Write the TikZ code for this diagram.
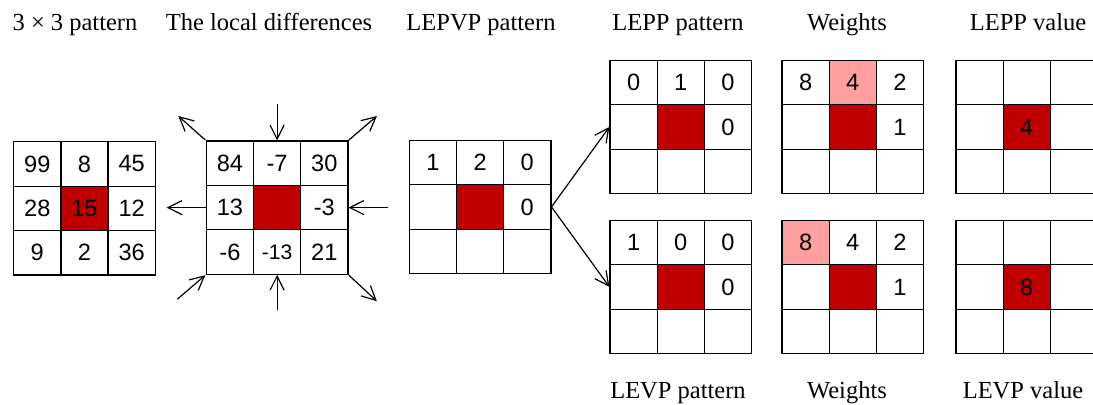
\documentclass[tikz,border=0pt]{standalone}
\usepackage{fontspec}
\setmainfont{Liberation Serif}
\newfontfamily\numfont{Liberation Sans}
\usetikzlibrary{arrows.meta,matrix,positioning}
\definecolor{cellred}{RGB}{192,0,0}
\definecolor{cellpink}{RGB}{255,160,160}

\begin{document}
\begin{tikzpicture}[x=0.5pt,y=-0.5pt,
    title/.style={anchor=base,inner sep=0pt,font=\fontsize{12.25}{14}\selectfont},
    grid/.style={matrix of nodes,nodes in empty cells,anchor=north west,inner sep=0pt,
      column sep=-0.6pt,row sep=-0.6pt,
      nodes={draw,line width=0.6pt,minimum width=23.6pt,minimum height=22.2pt,
        inner sep=0pt,anchor=center,font=\numfont\fontsize{11.8}{13}\selectfont}},
    red/.style={fill=cellred},
    pink/.style={fill=cellpink},
    arr/.style={-{Straight Barb[length=7pt,width=7pt]},line width=0.6pt}]
  \useasboundingbox (0,0) rectangle (1093,404);
  \clip (0,0) rectangle (1093,404);

  % titles
  \node[title] (t-orig) at (75,30) {3 × 3 pattern};
  \node[title] (t-diff) at (269,30) {The local differences};
  \node[title] (t-lepvp) at (481,30) {LEPVP pattern};
  \node[title] (t-lepp) at (678,30) {LEPP pattern};
  \node[title] (t-wtop) at (847,30) {Weights};
  \node[title] (t-valtop) at (1028,30) {LEPP value};
  \node[title] (t-levp) at (678,398) {LEVP pattern};
  \node[title] (t-wbot) at (847,398) {Weights};
  \node[title] (t-valbot) at (1023,398) {LEVP value};

  % grids
  \matrix (orig) [grid] at (12.7,140.7) {
    99 & 8 & 45 \\
    28 & |[red]| 15 & 12 \\
    9 & 2 & 36 \\
  };
  \matrix (diff) [grid] at (205.3,140) {
    84 & -7 & 30 \\
    13 & |[red]| & -3 \\
    -6 & |[font=\numfont\fontsize{10.5}{12}\selectfont]| -13 & 21 \\
  };
  \matrix (lepvp) [grid] at (408.3,139.3) {
    1 & 2 & 0 \\
      & |[red]| & 0 \\
      & & \\
  };
  \matrix (lepp) [grid] at (609,59.3) {
    0 & 1 & 0 \\
      & |[red]| & 0 \\
      & & \\
  };
  \matrix (wtop) [grid] at (781,59.3) {
    8 & |[pink]| 4 & 2 \\
      & |[red]| & 1 \\
      & & \\
  };
  \matrix (valtop) [grid] at (955,59.3) {
      & & \\
      & |[red]| 4 & \\
      & & \\
  };
  \matrix (levp) [grid] at (609,219.3) {
    1 & 0 & 0 \\
      & |[red]| & 0 \\
      & & \\
  };
  \matrix (wbot) [grid] at (781,219.3) {
    |[pink]| 8 & 4 & 2 \\
      & |[red]| & 1 \\
      & & \\
  };
  \matrix (valbot) [grid] at (955,219.3) {
      & & \\
      & |[red]| 8 & \\
      & & \\
  };

  % arrows round the local differences
  \coordinate (n-in) at ([yshift=18pt]diff-1-2.north);
  \coordinate (s-in) at ([yshift=-17.5pt]diff-3-2.south);
  \coordinate (e-in) at ([xshift=19.5pt]diff-2-3.east);
  \coordinate (w-out) at ([xshift=-19.5pt]diff-2-1.west);
  \coordinate (nw-out) at ([xshift=-13.5pt,yshift=12pt]diff.north west);
  \coordinate (ne-out) at ([xshift=14pt,yshift=12pt]diff.north east);
  \coordinate (sw-in) at ([xshift=-14pt,yshift=-12pt]diff.south west);
  \coordinate (se-out) at ([xshift=14pt,yshift=-13pt]diff.south east);
  \draw[arr] (n-in) -- (diff-1-2.north);
  \draw[arr] (s-in) -- (diff-3-2.south);
  \draw[arr] (e-in) -- (diff-2-3.east);
  \draw[arr] (diff-2-1.west) -- (w-out);
  \draw[arr] (diff.north west) -- (nw-out);
  \draw[arr] (diff.north east) -- (ne-out);
  \draw[arr] (sw-in) -- (diff.south west);
  \draw[arr] (diff.south east) -- (se-out);

  % split into the two patterns
  \draw[arr] (lepvp-2-3.east) -- (lepp-2-1.west);
  \draw[arr] (lepvp-2-3.east) -- (levp-2-1.west);
\end{tikzpicture}
\end{document}
